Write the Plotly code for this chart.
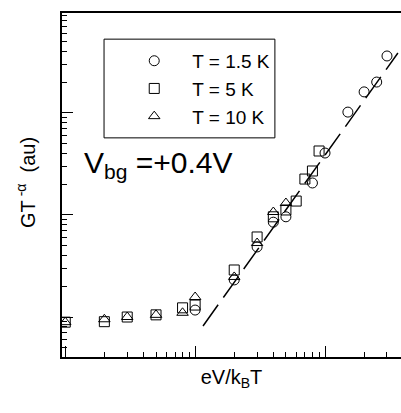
import plotly.graph_objects as go

# ---- data ----
x_15K = [10, 20, 30, 40, 50, 80, 100, 150, 200, 250, 300]
y_15K = [1.17, 2.31, 4.86, 8.5, 9.6, 20.6, 40.5, 102, 161, 201, 362]

x_5K = [1, 2, 3, 5, 8, 10, 20, 30, 40, 50, 60, 70, 80, 90]
y_5K = [0.89, 0.90, 1.0, 1.05, 1.23, 1.31, 2.89, 6.09, 9.6, 11.2, 13.7, 22.5, 27, 42.4]

x_10K = [1, 2, 3, 5, 8, 10, 20, 30, 40, 50]
y_10K = [0.89, 0.95, 1.0, 1.05, 1.1, 1.57, 2.47, 5.31, 10.7, 13.1]

fit_x = [11.5, 364]
fit_y = [0.817, 387]

names = ["T = 1.5 K", "T = 5 K", "T = 10 K"]
symbols = ["circle-open", "square-open", "triangle-up-open"]

FONT = "Arial, Liberation Sans, sans-serif"

fig = go.Figure()
fig.add_trace(go.Scatter(x=fit_x, y=fit_y, mode="lines", showlegend=False,
                         line=dict(color="black", width=1.5, dash="26px,9px")))
for xs, ys, nm, sym in zip([x_15K, x_5K, x_10K], [y_15K, y_5K, y_10K], names, symbols):
    fig.add_trace(go.Scatter(x=xs, y=ys, mode="markers", name=nm,
                             marker=dict(symbol=sym, size=10, color="black",
                                         line=dict(color="black", width=1))))

minor_x = [m * 10 ** d for d in range(-1, 3) for m in range(2, 10)]
minor_y = [m * 10 ** d for d in range(-1, 3) for m in range(2, 10)]

fig.update_xaxes(type="log", range=[-0.025, 2.585], showline=True, linecolor="black",
                 linewidth=2, mirror=True, ticks="inside", ticklen=11, tickwidth=1,
                 tickcolor="black", tickvals=[1, 10, 100], showticklabels=False,
                 showgrid=False, zeroline=False, automargin=False,
                 minor=dict(tickvals=minor_x, ticks="inside", ticklen=5,
                            tickcolor="black", tickwidth=1, showgrid=False),
                 title=dict(text="eV/k<sub>B</sub>T", font=dict(family=FONT, size=20, color="black"),
                            standoff=12))
fig.update_yaxes(type="log", range=[-0.392, 2.98], showline=True, linecolor="black",
                 linewidth=2, mirror=False, ticks="inside", ticklen=11, tickwidth=1,
                 tickcolor="black", tickvals=[1, 10, 100, 1000], showticklabels=False,
                 showgrid=False, zeroline=False, automargin=False,
                 minor=dict(tickvals=minor_y, ticks="inside", ticklen=5,
                            tickcolor="black", tickwidth=1, showgrid=False))

# y-axis title as a rotated annotation for exact placement
fig.add_annotation(xref="paper", yref="paper", x=-0.106, y=0.506, xanchor="center", yanchor="middle",
                   text="GT<sup> -α</sup>\u00a0\u00a0(au)", textangle=-90, showarrow=False,
                   font=dict(family=FONT, size=20, color="black"))

fig.add_shape(type="rect", xref="paper", yref="paper", x0=0.124, x1=0.628, y0=0.637, y1=0.924,
              line=dict(color="black", width=1), fillcolor="rgba(0,0,0,0)")

fig.add_annotation(xref="paper", yref="paper", x=0.059, y=0.56, xanchor="left", yanchor="middle",
                   text="V<sub>bg</sub> =+0.4V", showarrow=False,
                   font=dict(family=FONT, size=30, color="black"))

fig.update_layout(
    width=401, height=413,
    margin=dict(l=62, r=0, t=13, b=56),
    paper_bgcolor="white", plot_bgcolor="white",
    font=dict(family=FONT, color="black"),
    legend=dict(x=0.16, y=0.916, xanchor="left", yanchor="top", bgcolor="rgba(0,0,0,0)",
                borderwidth=0, font=dict(family=FONT, size=19, color="black"),
                itemwidth=66, tracegroupgap=0),
)

fig.write_html("out.html", config={"displayModeBar": False},
               post_script="document.body.style.margin='0px';")
